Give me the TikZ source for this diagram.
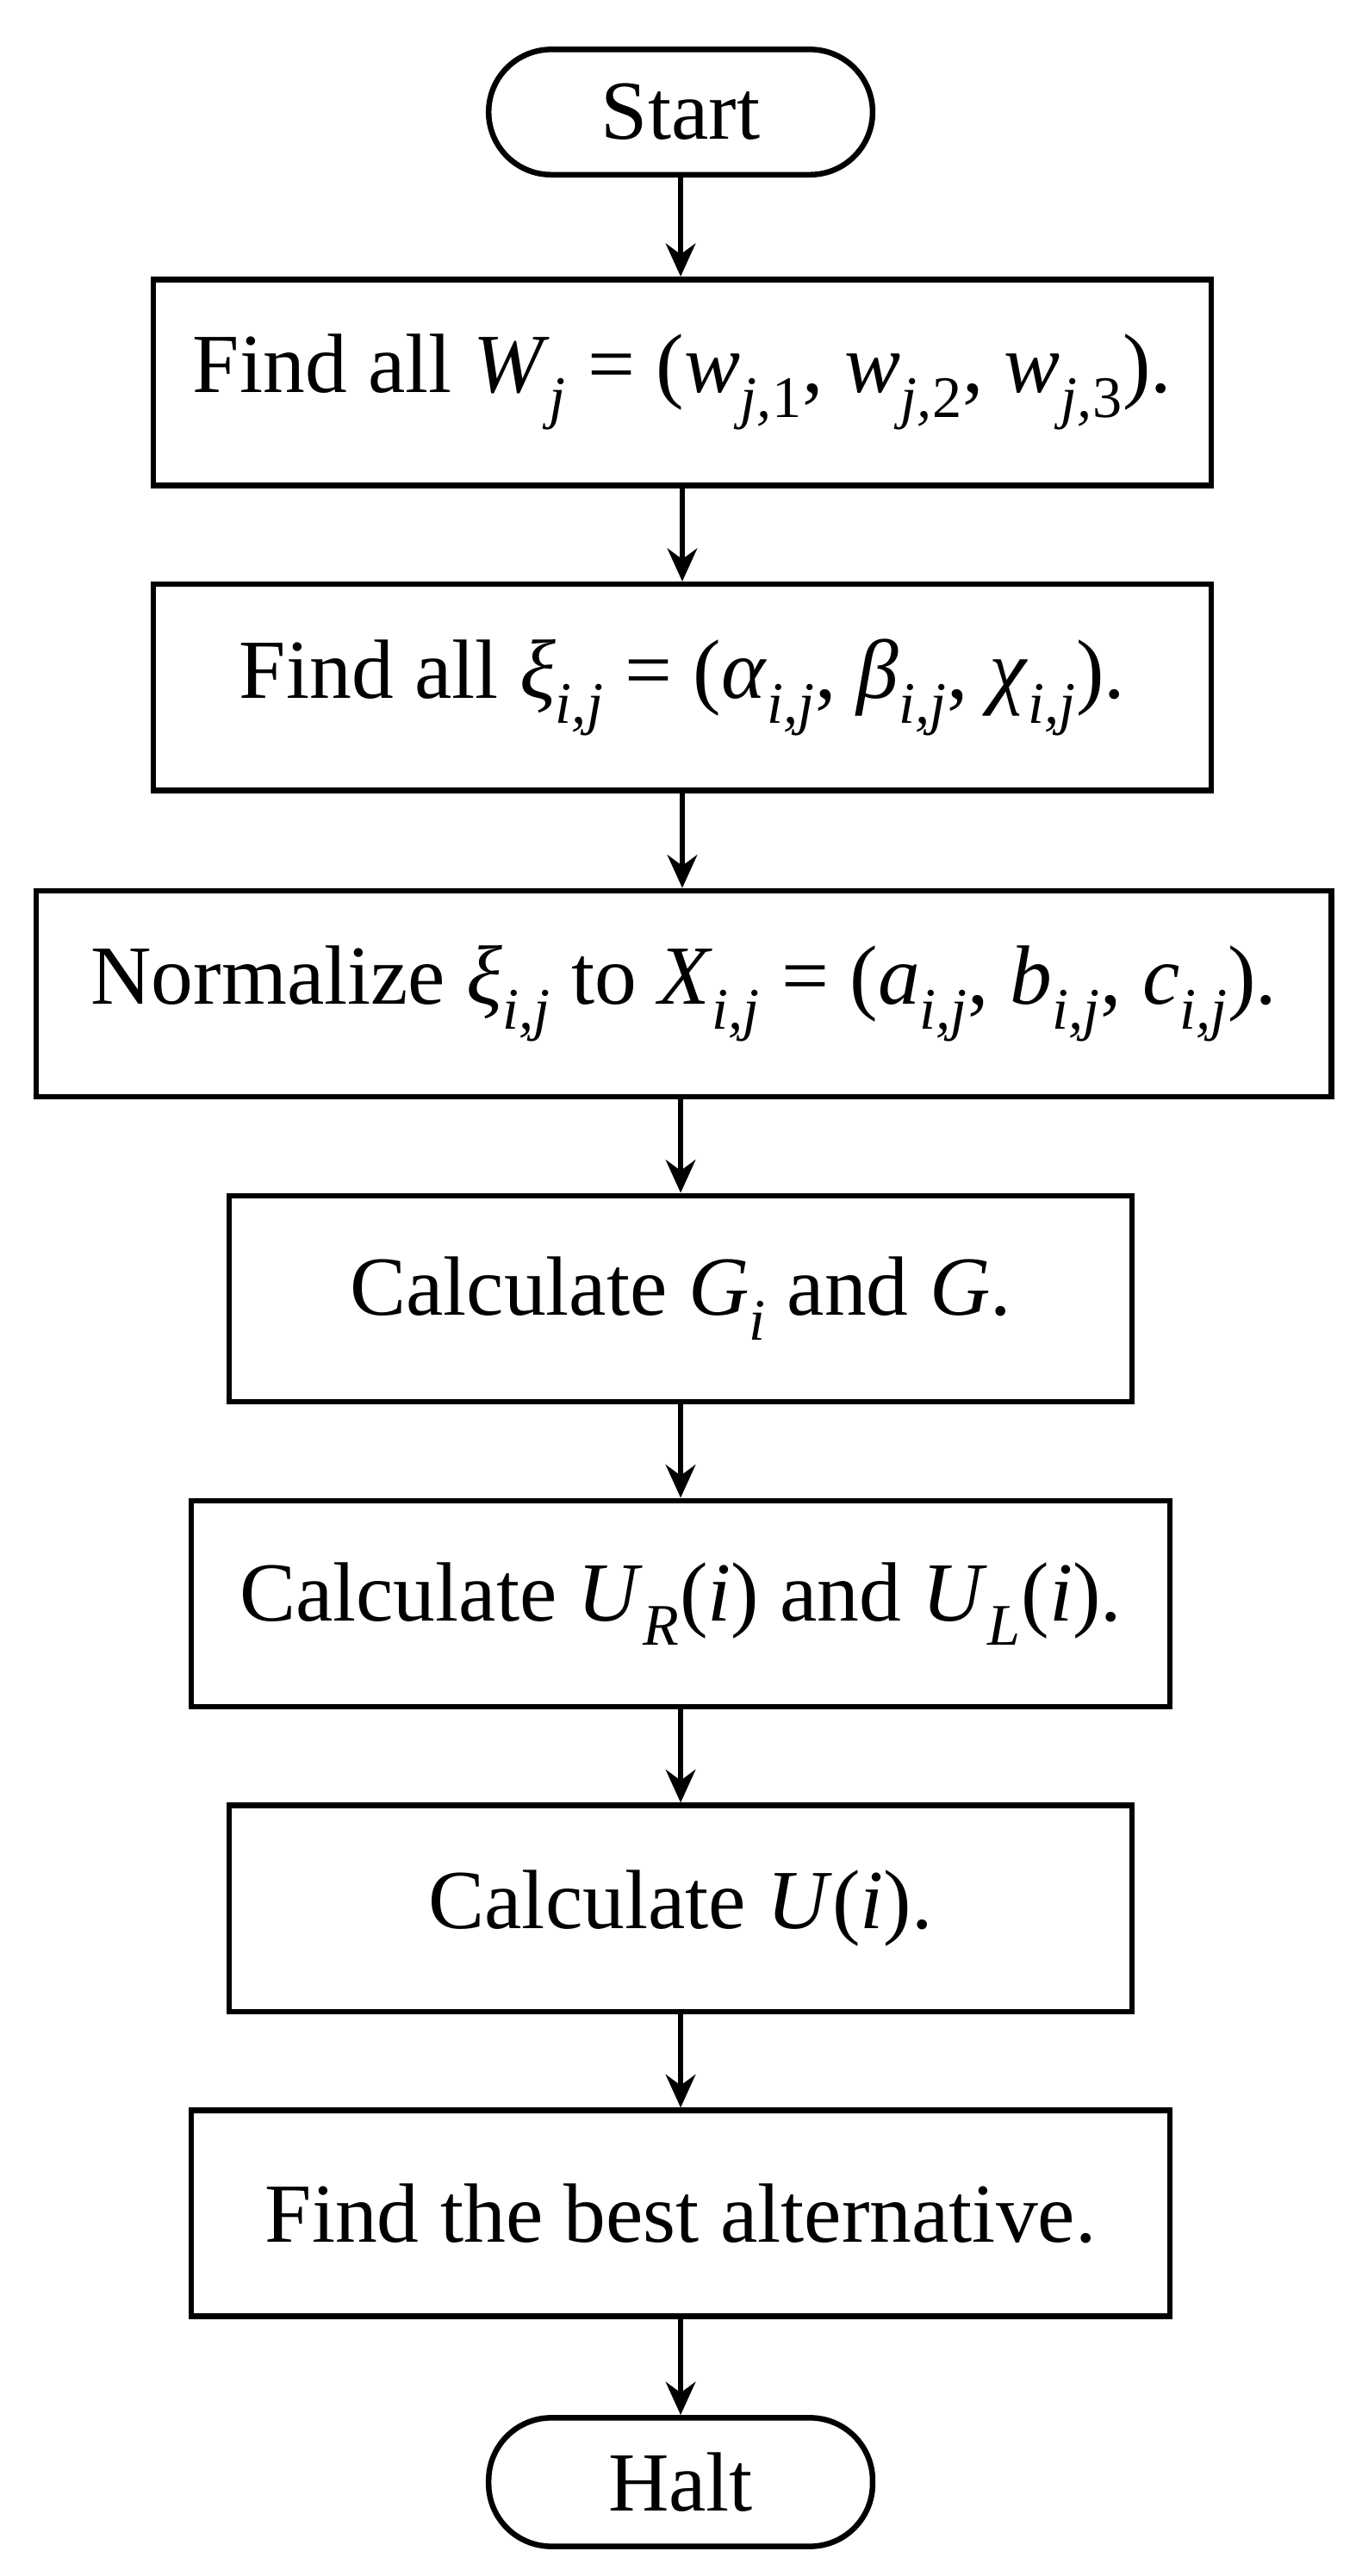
\documentclass[tikz,border=0pt]{standalone}
\usepackage{fontspec}
\setmainfont{Liberation Serif}
\usetikzlibrary{arrows.meta}
\newcommand{\sbs}[1]{\textsubscript{\textit{#1}}}
\begin{document}
\begin{tikzpicture}[x=1pt,y=-1pt,
  every node/.style={font=\fontsize{51}{58}\selectfont},
  box/.style={draw,line width=3.4pt,inner sep=0pt},
  term/.style={draw,line width=3.4pt,rounded corners=38pt,inner sep=0pt},
  arr/.style={line width=3.4pt,-{Stealth[length=20pt,width=18pt]}}]
\useasboundingbox (0,0) rectangle (826,1563);
\node[term,minimum width=233pt,minimum height=76pt] (s) at (413,68) {Start};
\node[box,minimum width=642pt,minimum height=125pt] (b1) at (414,232) {Find all \textit{W}\sbs{j} = (\textit{w}\sbs{j,}\textsubscript{1}, \textit{w}\sbs{j,}\textsubscript{2}, \textit{w}\sbs{j,}\textsubscript{3}).};
\node[box,minimum width=642pt,minimum height=125pt] (b2) at (414,417) {Find all \textit{ξ}\sbs{i,j} = (\textit{α}\sbs{i,j}, \textit{β}\sbs{i,j}, \textit{χ}\sbs{i,j}).};
\node[box,minimum width=786pt,minimum height=125pt] (b3) at (415,603) {Normalize \textit{ξ}\sbs{i,j} to \textit{X}\sbs{i,j} = (\textit{a}\sbs{i,j}, \textit{b}\sbs{i,j}, \textit{c}\sbs{i,j}).};
\node[box,minimum width=548pt,minimum height=125pt] (b4) at (413,788) {Calculate \textit{G}\sbs{i} and \textit{G}.};
\node[box,minimum width=594pt,minimum height=125pt] (b5) at (413,973) {Calculate \textit{U}\sbs{R}(\textit{i}) and \textit{U}\sbs{L}(\textit{i}).};
\node[box,minimum width=548pt,minimum height=125pt] (b6) at (413,1158) {Calculate \textit{U}(\textit{i}).};
\node[box,minimum width=594pt,minimum height=125pt] (b7) at (413,1343) {Find the best alternative.};
\node[term,minimum width=233pt,minimum height=78pt] (h) at (413,1506) {Halt};
\draw[arr] (s) -- (s|-b1.north);
\draw[arr] (b1) -- (b1|-b2.north);
\draw[arr] (b2) -- (b2|-b3.north);
\draw[arr] (b3.south-|b4) -- (b4);
\draw[arr] (b4) -- (b4|-b5.north);
\draw[arr] (b5) -- (b5|-b6.north);
\draw[arr] (b6) -- (b6|-b7.north);
\draw[arr] (b7) -- (h);
\end{tikzpicture}
\end{document}
